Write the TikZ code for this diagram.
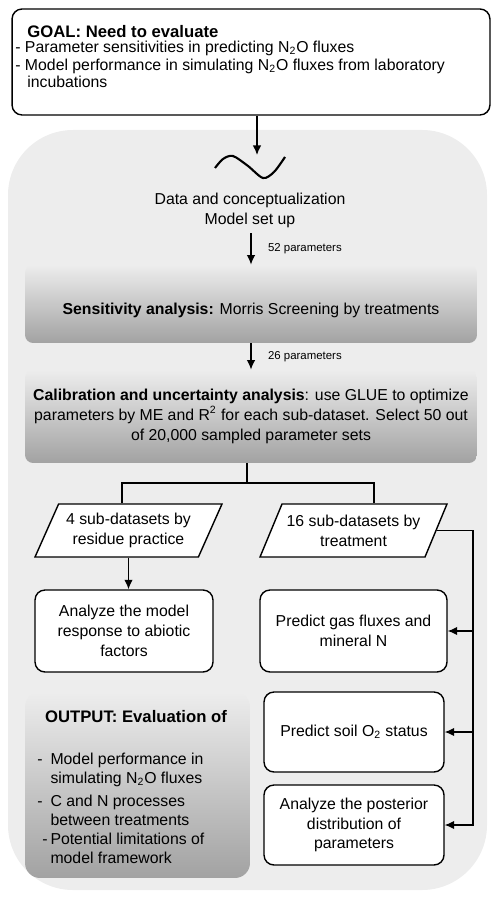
\documentclass[tikz,border=0pt]{standalone}
\usepackage{fontspec}
\setmainfont{Liberation Sans}
\usetikzlibrary{arrows.meta,shapes.geometric}

\definecolor{panelgray}{HTML}{EDEDED}
\definecolor{shadetop}{HTML}{EDEDED}
\definecolor{shadebot}{HTML}{A2A2A2}

\tikzset{
  wbox/.style={draw, line width=0.8pt, rounded corners=0.2cm, fill=white, align=center, inner sep=2pt},
  gbox/.style={rounded corners=0.16cm, top color=shadetop, bottom color=shadebot, align=center},
  dset/.style={draw, line width=0.8pt, trapezium, trapezium left angle=63, trapezium right angle=117,
    trapezium stretches body, fill=white, align=center, minimum width=3.74cm, minimum height=1.06cm, inner xsep=2pt},
  arr/.style={-{Latex[length=1.9mm,width=1.7mm]}, line width=0.8pt},
  link/.style={line width=0.8pt},
}

\begin{document}
\begin{tikzpicture}[x=0.02cm, y=-0.02cm, font=\fontsize{9}{11.3}\selectfont]

	\useasboundingbox (0,0) rectangle (500,901);
%	\draw[style=help lines, step=50] (0,0) grid (500,901);

	\def\xbus{473}

	% grey panel
	\fill[panelgray, rounded corners=1.3cm] (8,130) rectangle (487,890);

	\node[wbox, minimum width=9.56cm, minimum height=2.12cm] (goal) at (251,62) {};
	\node[anchor=base west, font=\fontsize{9.5}{11}\selectfont\bfseries, inner sep=0pt] (goalhead) at (27,38) {GOAL: Need to evaluate};
	\node[anchor=north west, align=left, inner sep=0pt, font=\fontsize{9}{9.9}\selectfont] (goaltext) at (15,41)
		{- Parameter sensitivities in predicting N\textsubscript{2}O fluxes\\
		 - Model performance in simulating N\textsubscript{2}O fluxes from laboratory\\
		 \hspace*{6.8pt}incubations};

	\coordinate (wavetop) at (257,155);
	\draw[line width=1.2pt] plot[smooth] coordinates {(215,168) (223,159) (233,156) (248,166) (263,178) (274,172) (285,157)};

	\node[align=center] (setup) at (250,210) {Data and conceptualization\\Model set up};

	\node[gbox, minimum width=9.04cm, minimum height=1.56cm, text height=0.5cm] (sens) at (251,304)
		{\textbf{Sensitivity analysis:} Morris Screening by treatments};
	\node[gbox, minimum width=9.04cm, minimum height=1.86cm] (calib) at (251,416.5)
		{\textbf{Calibration and uncertainty analysis}: use GLUE to optimize\\
		 parameters by ME and R\textsuperscript{2} for each sub-dataset. Select 50 out\\
		 of 20,000 sampled parameter sets};

	\node[dset] (resid) at (128.5,530.5) {4 sub-datasets by\\residue practice};
	\node[dset] (treat) at (353.5,530.5) {16 sub-datasets by\\treatment};

	\node[wbox, minimum width=3.56cm, minimum height=1.64cm] (abiotic) at (124,631)
		{Analyze the model\\response to abiotic\\factors};
	\node[wbox, minimum width=3.74cm, minimum height=1.64cm] (gas) at (353.5,631)
		{Predict gas fluxes and\\mineral N};
	\node[wbox, minimum width=3.6cm, minimum height=1.6cm] (otwo) at (354,732)
		{Predict soil O\textsubscript{2} status};
	\node[wbox, minimum width=3.6cm, minimum height=1.6cm] (post) at (354,825)
		{Analyze the posterior\\distribution of\\parameters};

	% output
	\node[gbox, rounded corners=0.3cm, minimum width=4.5cm, minimum height=3.72cm] (output) at (137.5,785) {};
	\node[font=\fontsize{9.5}{11}\selectfont\bfseries] (outhead) at (136,717) {OUTPUT: Evaluation of};
	\node[anchor=north west, align=left, inner sep=0pt, font=\fontsize{9}{10.8}\selectfont] (outtext) at (37,751)
		{\begin{tabular}{@{}l@{\hspace{4.5pt}}l@{}}
		 - & Model performance in\\
		   & simulating N\textsubscript{2}O fluxes\\[2pt]
		 - & C and N processes\\
		   & between treatments\\
		 \hspace{2.8pt}-\hspace{-2.8pt} & Potential limitations of\\
		   & model framework
		 \end{tabular}};

	% connectors
	\draw[arr] (goal.south -| wavetop) -- (wavetop);
	\draw[arr] (sens.north |- setup.south) -- node[right=6pt, font=\fontsize{6.5}{8}\selectfont] {52 parameters} (sens.north);
	\draw[arr] (sens.south) -- node[right=6pt, font=\fontsize{6.5}{8}\selectfont] {26 parameters} (calib.north);

	\coordinate (split) at (247,483);
	\draw[link] (calib.south -| split) -- (split);
	\draw[link] ([xshift=-0.13cm]resid.north) |- (split) -| ([xshift=0.41cm]treat.north);
	\draw[arr] (resid.south) -- (resid.south |- abiotic.north);

	\coordinate (busend) at (\xbus,825);
	\draw[arr] (treat.east) -| (busend) -- (post.east);
	\draw[arr] (gas.east -| busend) -- (gas.east);
	\draw[arr] (otwo.east -| busend) -- (otwo.east);

\end{tikzpicture}
\end{document}
